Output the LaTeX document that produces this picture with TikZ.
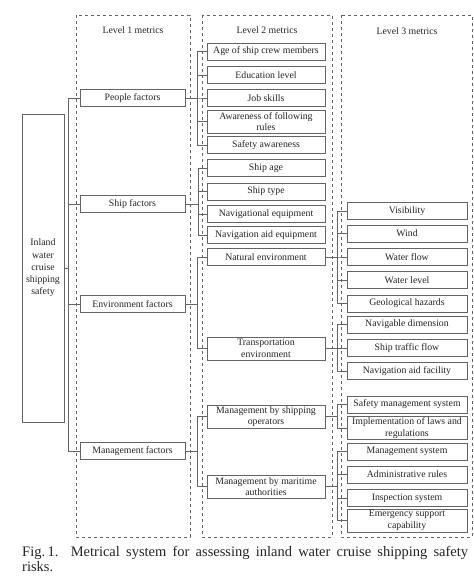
\documentclass[tikz,border=0pt]{standalone}
\usepackage{fontspec}
\setmainfont{Liberation Serif}
\usetikzlibrary{positioning}
\definecolor{boxgray}{RGB}{100,100,100}
\definecolor{textgray}{RGB}{35,35,35}
\newcommand{\nodefont}{\fontsize{9.8}{11.5}\selectfont}

\begin{document}
\begin{tikzpicture}[x=1pt,y=-1pt,
    box/.style={draw=boxgray, line width=0.8pt, text=textgray, font=\nodefont, align=center, inner sep=1pt, minimum height=17pt},
    lonebox/.style={box, minimum width=105pt},
    ltwobox/.style={box, minimum width=118pt},
    lthreebox/.style={box, minimum width=120pt},
    tall/.style={minimum height=23pt},
    link/.style={draw=boxgray, line width=0.8pt},
    frame/.style={draw=boxgray, dashed, line width=0.8pt}]
  \useasboundingbox (0,0) rectangle (474,576);
  % level frames
  \draw[frame] (76,15) rectangle (190,537);
  \draw[frame] (202,15) rectangle (332,537);
  \draw[frame] (341,15) rectangle (472,537);
  \node[text=textgray, font=\nodefont] (lvlone) at (133,30) {Level 1 metrics};
  \node[text=textgray, font=\nodefont] (lvltwo) at (267,30) {Level 2 metrics};
  \node[text=textgray, font=\nodefont] (lvlthree) at (407,31) {Level 3 metrics};
  % root
  \node[box, minimum width=42pt, minimum height=308pt, font=\fontsize{9.8}{12.2}\selectfont] (root) at (43,268)
    {Inland\\water\\cruise\\shipping\\safety};
  % level 1
  \node[lonebox] (people) at (132.5,98) {People factors};
  \node[lonebox] (ship) at (132.5,204) {Ship factors};
  \node[lonebox] (env) at (132.5,304) {Environment factors};
  \node[lonebox] (mgmt) at (132.5,451) {Management factors};
  % level 2
  \node[ltwobox] (age) at (266,51.5) {Age of ship crew members};
  \node[ltwobox] (edu) at (266,75) {Education level};
  \node[ltwobox] (skills) at (266,98) {Job skills};
  \node[ltwobox, tall] (aware) at (266,121.5) {Awareness of following\\rules};
  \node[ltwobox] (safety) at (266,145) {Safety awareness};
  \node[ltwobox] (shipage) at (266,168) {Ship age};
  \node[ltwobox] (shiptype) at (266,191.5) {Ship type};
  \node[ltwobox] (naveq) at (266,214) {Navigational equipment};
  \node[ltwobox] (navaid) at (266,235) {Navigation aid equipment};
  \node[ltwobox] (natural) at (266,257) {Natural environment};
  \node[ltwobox, tall] (transport) at (266,348.5) {Transportation\\environment};
  \node[ltwobox, tall] (operators) at (266,416.5) {Management by shipping\\operators};
  \node[ltwobox, tall] (maritime) at (266,486.5) {Management by maritime\\authorities};
  % level 3
  \node[lthreebox] (visib) at (407,211) {Visibility};
  \node[lthreebox] (wind) at (407,233.5) {Wind};
  \node[lthreebox] (flow) at (407,257) {Water flow};
  \node[lthreebox] (level) at (407,280) {Water level};
  \node[lthreebox] (geo) at (407,303.5) {Geological hazards};
  \node[lthreebox] (dimension) at (407,324.5) {Navigable dimension};
  \node[lthreebox] (traffic) at (407,348) {Ship traffic flow};
  \node[lthreebox] (facility) at (407,371) {Navigation aid facility};
  \node[lthreebox] (safesys) at (407,404.5) {Safety management system};
  \node[lthreebox, tall] (laws) at (407,428) {Implementation of laws and\\regulations};
  \node[lthreebox] (mgsys) at (407,451.5) {Management system};
  \node[lthreebox] (rules) at (407,474.5) {Administrative rules};
  \node[lthreebox] (inspect) at (407,498) {Inspection system};
  \node[lthreebox, tall] (emergency) at (407,520.5) {Emergency support\\capability};
  % connectors
  \foreach \c in {people,ship,env,mgmt}{\draw[link] (root.east) -- ++(4,0) |- (\c.west);}
  \foreach \c in {age,edu,skills,aware,safety}{\draw[link] (people.east) -- ++(12,0) |- (\c.west);}
  \foreach \c in {shipage,shiptype,naveq,navaid}{\draw[link] (ship.east) -- ++(13,0) |- (\c.west);}
  \foreach \c in {natural,transport}{\draw[link] (env.east) -- ++(12,0) |- (\c.west);}
  \foreach \c in {operators,maritime}{\draw[link] (mgmt.east) -- ++(12,0) |- (\c.west);}
  \foreach \c in {visib,wind,flow,level,geo}{\draw[link] (natural.east) -- ++(12,0) |- (\c.west);}
  \foreach \c in {dimension,traffic,facility}{\draw[link] (transport.east) -- ++(12,0) |- (\c.west);}
  \foreach \c in {safesys,laws}{\draw[link] (operators.east) -- ++(12,0) |- (\c.west);}
  \foreach \c in {mgsys,rules,inspect,emergency}{\draw[link] (maritime.east) -- ++(12,0) |- (\c.west);}
  % caption
  \node[anchor=north west, inner sep=0pt, text width=446pt, align=justify, text=textgray,
    font=\fontsize{14.5}{15.5}\selectfont] (caption) at (22,546)
    {Fig.\,1.\ \ Metrical system for assessing inland water cruise shipping safety\linebreak risks.};
\end{tikzpicture}
\end{document}
